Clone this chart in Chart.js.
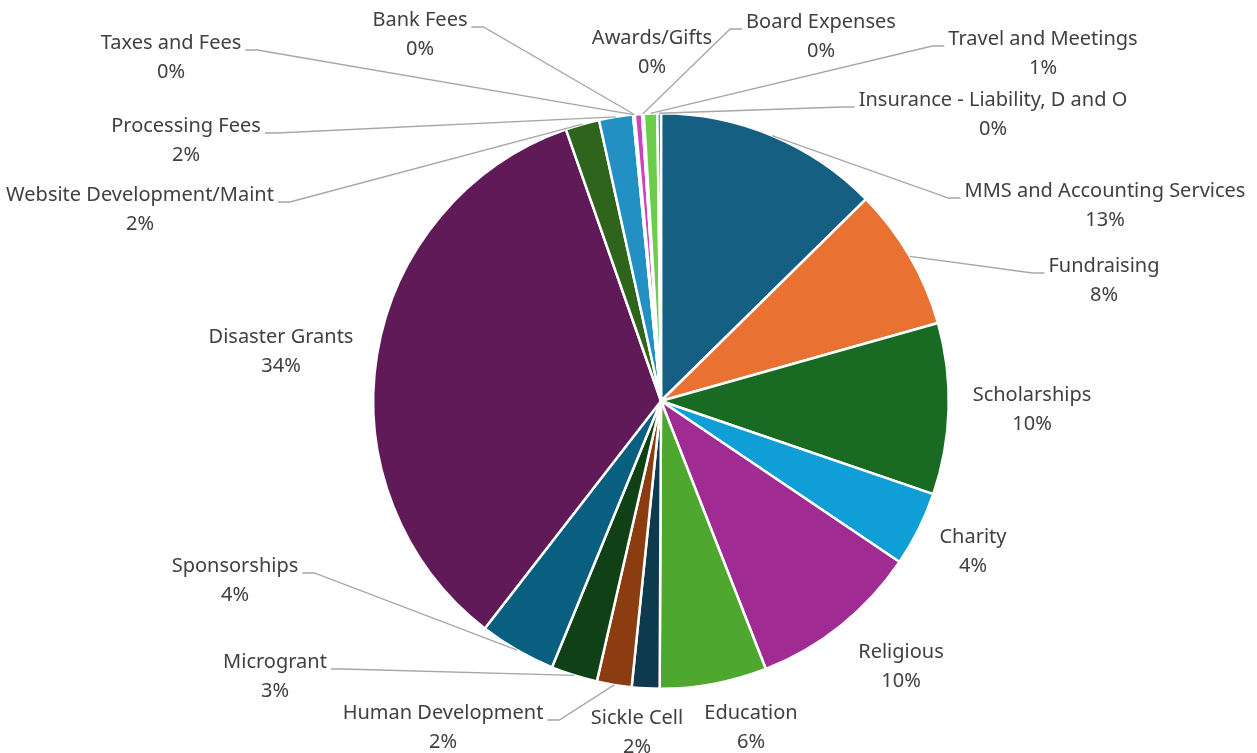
<!DOCTYPE html>
<html>
<head>
<meta charset="utf-8">
<script src="https://cdn.jsdelivr.net/npm/chart.js@4.4.1/dist/chart.umd.min.js"></script>
<style>
  html, body { margin: 0; padding: 0; background: #fff; }
  #wrap { width: 1257px; height: 753px; position: relative; }
</style>
</head>
<body>
<div id="wrap"><canvas id="expenseChart"></canvas></div>
<script>
// categories, clockwise from 12 o'clock
const categories = [
    'MMS and Accounting Services', 'Fundraising', 'Scholarships', 'Charity',
    'Religious', 'Education', 'Sickle Cell', 'Human Development', 'Microgrant',
    'Sponsorships', 'Disaster Grants', 'Website Development/Maint',
    'Processing Fees', 'Taxes and Fees', 'Bank Fees', 'Awards/Gifts',
    'Board Expenses', 'Travel and Meetings', 'Insurance - Liability, D and O'
];
// share of total spending, percent
const shares = [
    12.6, 8.0, 9.6, 4.2,
    9.6, 6.0, 1.55, 1.95, 2.6,
    4.3, 34.1, 1.9,
    1.9, 0.05, 0.05, 0.4,
    0.1, 0.75, 0.2
];
const sliceColors = [
    '#156082', '#e97132', '#196b24', '#0f9ed5',
    '#a02b93', '#4ea72e', '#0d3a4e', '#8b3c10', '#0f4016',
    '#095f80', '#601a58', '#2f641c',
    '#2290c3', '#f09a6c', '#3a9a48', '#cb43be',
    '#4fc0ee', '#6ccd4a', '#2d6b8a'
];

// where each label sits, relative to the pie centre (layout only)
const labelSpots = {
    'MMS and Accounting Services': [444, -210],
    'Fundraising': [443, -135],
    'Scholarships': [371, -6],
    'Charity': [312, 136],
    'Religious': [240, 251],
    'Education': [90, 312],
    'Sickle Cell': [-24, 317],
    'Human Development': [-218, 312],
    'Microgrant': [-386, 261],
    'Sponsorships': [-426, 165],
    'Disaster Grants': [-380, -64],
    'Website Development/Maint': [-521, -206],
    'Processing Fees': [-475, -275],
    'Taxes and Fees': [-490, -358],
    'Bank Fees': [-241, -381],
    'Awards/Gifts': [-9, -363],
    'Board Expenses': [160, -379],
    'Travel and Meetings': [382, -362],
    'Insurance - Liability, D and O': [332, -301]
};

const labelFont = '20px "Noto Sans"';
const textColor = '#404040';
const lineColor = '#a6a6a6';
const lineGap = 29;

const outsideLabels = {
    id: 'outsideLabels',
    afterDatasetsDraw(chart) {
        const ctx = chart.ctx;
        const meta = chart.getDatasetMeta(0);
        const values = chart.data.datasets[0].data;
        const total = values.reduce((a, b) => a + b, 0);
        ctx.save();
        ctx.font = labelFont;
        ctx.textAlign = 'center';
        ctx.textBaseline = 'middle';
        meta.data.forEach((arc, i) => {
            const name = chart.data.labels[i];
            const spot = labelSpots[name];
            const pct = Math.round(values[i] / total * 100) + '%';
            const lx = arc.x + spot[0];
            const ly = arc.y + spot[1];
            const mid = (arc.startAngle + arc.endAngle) / 2;
            const ex = arc.x + Math.cos(mid) * arc.outerRadius;
            const ey = arc.y + Math.sin(mid) * arc.outerRadius;
            const dist = Math.hypot(lx - ex, ly + lineGap / 2 - ey);

            if (dist > 110) {
                const w = ctx.measureText(name).width;
                let pts;
                if (name === 'Awards/Gifts') {
                    pts = [[lx - 20, ly + lineGap + 16], [lx - 20, ly + lineGap + 16], [ex, ey]];
                } else if (lx > arc.x) {
                    const sx = lx - w / 2 - 4;
                    pts = [[sx, ly + 7], [sx - 12, ly + 7], [ex, ey]];
                } else {
                    const sx = lx + w / 2 + 4;
                    pts = [[sx, ly + 7], [sx + 12, ly + 7], [ex, ey]];
                }
                ctx.strokeStyle = lineColor;
                ctx.lineWidth = 1.3;
                ctx.beginPath();
                ctx.moveTo(pts[0][0], pts[0][1]);
                ctx.lineTo(pts[1][0], pts[1][1]);
                ctx.lineTo(pts[2][0], pts[2][1]);
                ctx.stroke();
            }
            ctx.fillStyle = textColor;
            ctx.fillText(name, lx, ly);
            ctx.fillText(pct, lx, ly + lineGap);
        });
        ctx.restore();
    }
};

new Chart(document.getElementById('expenseChart'), {
    type: 'pie',
    data: {
        labels: categories,
        datasets: [{
            data: shares,
            backgroundColor: sliceColors,
            borderColor: '#ffffff',
            borderWidth: 2.5
        }]
    },
    options: {
        responsive: true,
        maintainAspectRatio: false,
        animation: false,
        layout: { padding: { left: 372, right: 307, top: 112, bottom: 63 } },
        plugins: {
            legend: { display: false },
            tooltip: { enabled: false }
        }
    },
    plugins: [outsideLabels]
});
</script>
</body>
</html>
